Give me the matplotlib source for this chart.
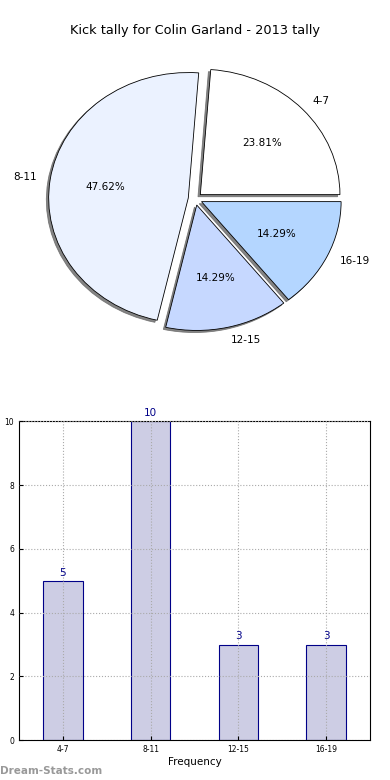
#!/usr/bin/env python3
''' Kick tally pie + bar chart
'''

import matplotlib
matplotlib.use('Agg')
from matplotlib import pyplot

#
# data
#

categories = ['4-7', '8-11', '12-15', '16-19']
counts = [5, 10, 3, 3]
pie_colors = ['#ffffff', '#ebf2ff', '#c6d8ff', '#b4d6ff']
title = 'Kick tally for Colin Garland - 2013 tally'

#
# figure
#

fig = pyplot.figure(figsize=(3.9, 7.8), dpi=100)

# pie on top
ax1 = fig.add_axes([0.053, 0.544, 0.895, 0.402])
wedges, texts, autotexts = ax1.pie(
    counts, labels=categories, colors=pie_colors, autopct='%1.2f%%',
    explode=[0.05] * len(counts),
    shadow=dict(ox=-0.012, oy=-0.012, color='#666666', alpha=0.8),
    startangle=0,
    wedgeprops=dict(edgecolor='black', linewidth=0.6),
    textprops=dict(fontsize=7.5))
ax1.set_aspect('auto')
ax1.set_xlim(-1.25, 1.25)
ax1.set_ylim(-1.25, 1.25)
fig.text(0.5, 0.961, title, ha='center', va='center', fontsize=9.3)

# bar chart below
ax2 = fig.add_axes([0.049, 0.051, 0.9, 0.409])
pos = list(range(len(categories)))
bars = ax2.bar(pos, counts, width=0.45, color='#cdcde4', edgecolor='#000088',
    linewidth=0.8)
for p, c in zip(pos, counts):
    ax2.text(p, c + 0.1, str(c), ha='center', va='bottom', fontsize=7.5,
        color='#000088')
ax2.set_xlim(-0.5, 3.5)
ax2.set_ylim(0, 10)
ax2.set_xticks(pos)
ax2.set_xticklabels(categories)
ax2.set_yticks(range(0, 11, 2))
ax2.tick_params(labelsize=5.5, length=3, direction='in')
ax2.grid(True, linestyle=':', color='#aaaaaa', linewidth=0.8)
ax2.set_axisbelow(False)
ax2.set_xlabel('Frequency', fontsize=7.5, labelpad=2)
ax2.set_ylabel('Total Kick Tally', fontsize=7.5)
ax2.yaxis.set_label_coords(-0.052, 0.5)

# watermark
fig.text(0.0, 0.012, 'Dream-Stats.com', fontsize=7.5, color='#999999',
    fontweight='bold', ha='left', va='center')

fig.savefig('out.png', dpi=100)
